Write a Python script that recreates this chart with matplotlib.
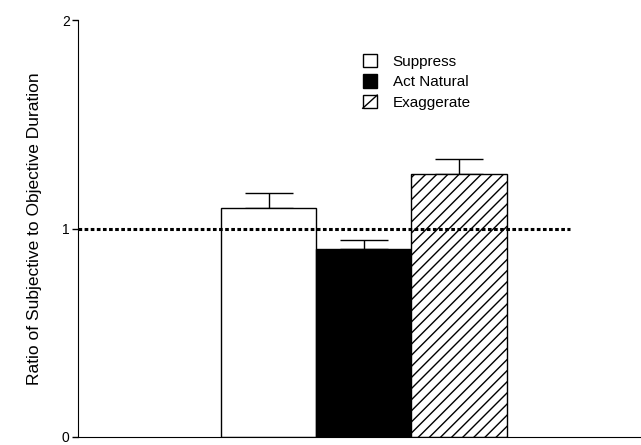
import matplotlib.pyplot as plt
from matplotlib.patches import Patch, Rectangle
from matplotlib.lines import Line2D

plt.rcParams['font.family'] = ['Liberation Sans', 'DejaVu Sans']
plt.rcParams['hatch.linewidth'] = 1.0

conditions = ["Suppress", "Act Natural", "Exaggerate"]
ratios = [1.10, 0.90, 1.26]
errors = [0.07, 0.045, 0.075]


class DiagHandler:
    # legend box with a single diagonal stroke, like the printed key
    def legend_artist(self, legend, orig_handle, fontsize, handlebox):
        x0, y0 = -handlebox.xdescent, -handlebox.ydescent
        w, h = handlebox.width, handlebox.height
        tr = handlebox.get_transform()
        rect = Rectangle((x0, y0), w, h, facecolor="white", edgecolor="black", lw=1.0, transform=tr)
        line = Line2D([x0, x0 + w], [y0, y0 + h], color="black", lw=1.0, transform=tr)
        handlebox.add_artist(rect)
        handlebox.add_artist(line)
        return rect


fig = plt.figure(figsize=(6.41, 4.45), dpi=100)
ax = fig.add_axes([0.1217, 0.018, 0.877, 0.937])

x = [0, 1, 2]
faces = ["white", "black", "white"]
hatches = [None, None, "///"]
for xi, r, e, fc, h in zip(x, ratios, errors, faces, hatches):
    ax.bar(xi, r, width=1.0, color=fc, edgecolor="black", linewidth=1.0, hatch=h, zorder=2)
    ax.errorbar(xi, r, yerr=[[0], [e]], fmt="none", ecolor="black", elinewidth=1.0,
                capsize=17, capthick=1.0, zorder=1)

ax.plot([-2.0, 3.16], [1, 1], color="black", linestyle=(0, (1.2, 0.8)), linewidth=2.2, zorder=3)

ax.set_xlim(-2.0, 3.9)
ax.set_ylim(0, 2)
ax.set_yticks([0, 1, 2])
ax.set_yticklabels(["0", "1", "2"], fontsize=10)
ax.set_xticks([])
ax.tick_params(axis="y", direction="out", length=4, width=1, pad=2)
ax.spines["top"].set_visible(False)
ax.spines["right"].set_visible(False)
ax.set_ylabel("Ratio of Subjective to Objective Duration", fontsize=12.5, labelpad=14)

handles = [Patch(facecolor="white", edgecolor="black", label="Suppress"),
           Patch(facecolor="black", edgecolor="black", label="Act Natural"),
           Patch(facecolor="white", edgecolor="black", label="Exaggerate")]
ax.legend(handles=handles, loc="upper left", bbox_to_anchor=(0.482, 0.952), frameon=False,
          handlelength=0.95, handleheight=0.95, fontsize=11, labelspacing=0.38,
          handletextpad=1.0, handler_map={handles[2]: DiagHandler()})

fig.savefig("out.png", dpi=100)
